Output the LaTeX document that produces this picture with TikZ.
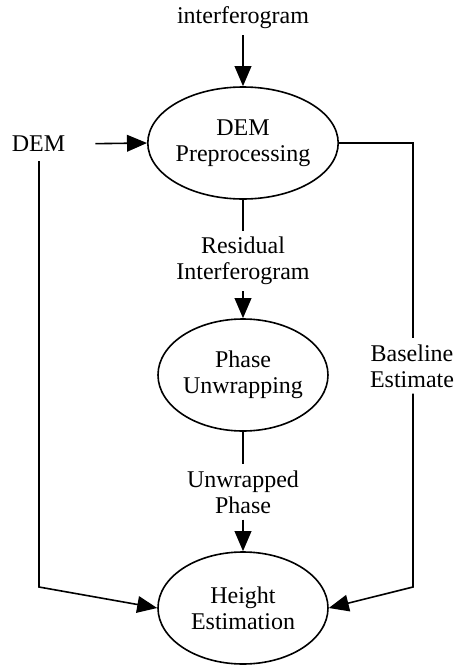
\documentclass[tikz,border=0pt]{standalone}
\usepackage{fontspec}
\setmainfont{Liberation Serif}
\usetikzlibrary{arrows.meta,shapes.geometric}

\begin{document}
\begin{tikzpicture}[x=0.75pt,y=-0.75pt,
  font=\fontsize{18}{19.5}\selectfont,
  line width=1.2pt,
  proc/.style={ellipse,draw,minimum width=127.5pt,minimum height=84pt,inner sep=0pt,align=center},
  txt/.style={align=center,inner xsep=2pt,inner ysep=4pt},
  flow/.style={-{Triangle[length=15pt,width=12.5pt]}},
]
\useasboundingbox (0,0) rectangle (456,665);

% process nodes
\node[proc] (pre) at (243,143) {DEM\\Preprocessing};
\node[proc] (unw) at (243,375) {Phase\\Unwrapping};
\node[proc] (hgt) at (243,608) {Height\\Estimation};

% inputs and edge labels
\node[txt] (ifg) at (243,18) {interferogram};
\node[txt] (dem) at (38.5,144) {DEM};
\node[txt] (res) at (243,261) {Residual\\Interferogram};
\node[txt] (uph) at (243,492) {Unwrapped\\Phase};
\node[txt] (bse) at (412,366) {Baseline\\Estimate};

% corner points of the side routes
\coordinate (lc) at (39,587);
\coordinate (rt) at (413,143);
\coordinate (rc) at (413,587);

% connectors
\draw[flow] (ifg) -- (pre);
\draw[flow,shorten <=20pt] (dem.east) -- (pre.west);
\draw (pre) -- (res);
\draw[flow] (res) -- (unw);
\draw (unw) -- (uph);
\draw[flow] (uph) -- (hgt);
\draw[flow] (dem.south) ++(0.5,3) -- (lc) -- (hgt.west);
\draw (pre.east) -- (rt) -- (bse.north -| rt);
\draw[flow] (bse.south -| rc) -- (rc) -- (hgt.east);
\end{tikzpicture}
\end{document}
